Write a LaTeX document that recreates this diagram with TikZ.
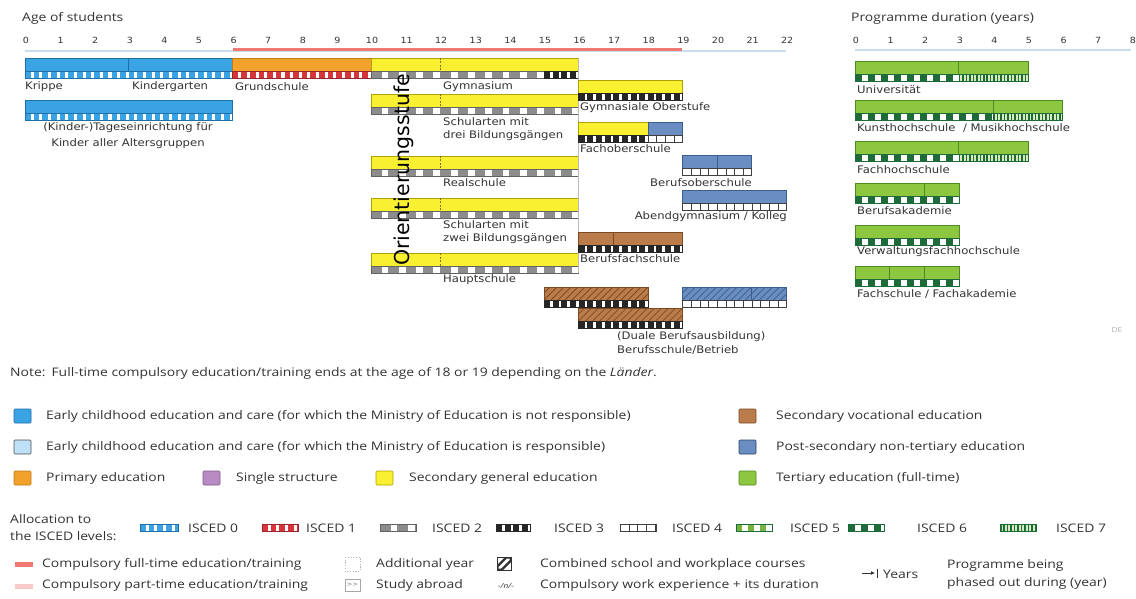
\documentclass[tikz,border=0pt]{standalone}
\usepackage{fontspec}
\setmainfont{Open Sans}[FakeStretch=1.18]
\newfontfamily\lab{DejaVu Sans}[FakeStretch=1.12]
\newfontfamily\labn{DejaVu Sans}
\usetikzlibrary{arrows.meta}

\definecolor{ecA}{HTML}{3AA3E3}
\definecolor{ecAd}{HTML}{1F6FA8}
\definecolor{ecB}{HTML}{BFE1F7}
\definecolor{prim}{HTML}{F2A22C}
\definecolor{primd}{HTML}{C07A10}
\definecolor{single}{HTML}{B88CC2}
\definecolor{singled}{HTML}{7E5A88}
\definecolor{secg}{HTML}{FAF032}
\definecolor{secgd}{HTML}{B0A000}
\definecolor{secv}{HTML}{BA7C4B}
\definecolor{secvd}{HTML}{7E4A22}
\definecolor{post}{HTML}{6B8EC2}
\definecolor{postd}{HTML}{3C5E8E}
\definecolor{tert}{HTML}{8DC63F}
\definecolor{tertd}{HTML}{4E8A22}
\definecolor{dgreen}{HTML}{1E6B3A}
\definecolor{iscred}{HTML}{D8353A}
\definecolor{iscgrey}{HTML}{8C8C8C}
\definecolor{comp}{HTML}{F07872}
\definecolor{comppart}{HTML}{F9C9C9}
\definecolor{axisblue}{HTML}{C9DDEE}
\definecolor{txt}{HTML}{333333}

% periodic band: x1, x2, y1, y2, background, mark colour, period, mark width
\newcommand\isband[8]{%
  \fill[#5] ({#1},{#3}) rectangle ({#2},{#4});
  \begin{scope}
    \clip ({#1},{#3}) rectangle ({#2},{#4});
    \pgfmathtruncatemacro\nmarks{(#2-#1)/#7}
    \foreach \k in {0,...,\nmarks}
      \fill[#6] ({#1+\k*#7},{#3}) rectangle ({#1+\k*#7+#8},{#4});
  \end{scope}}
% ISCED stripes: x1, x2, top of the stripe (height 7)
\newcommand\iZero[3]{\isband{#1}{#2}{#3}{#3+7}{white}{ecA}{8.65}{5.6}%
  \draw[ecAd,line width=.5] ({#1},{#3}) rectangle ({#2},{#3+7});}
\newcommand\iOne[3]{\isband{#1}{#2}{#3}{#3+7}{white}{iscred}{8.65}{5.6}%
  \draw[iscred!70!black,line width=.5] ({#1},{#3}) rectangle ({#2},{#3+7});}
\newcommand\iTwo[3]{\isband{#1}{#2}{#3}{#3+7}{white}{iscgrey}{17.3}{10.5}%
  \draw[iscgrey!70!black,line width=.5] ({#1},{#3}) rectangle ({#2},{#3+7});}
\newcommand\iThree[3]{\isband{#1}{#2}{#3}{#3+7}{white}{black!85}{8.65}{6}%
  \draw[black!85,line width=.5] ({#1},{#3}) rectangle ({#2},{#3+7});}
\newcommand\iFour[3]{\isband{#1}{#2}{#3}{#3+7}{white}{black!75}{8.65}{.8}%
  \draw[black!75,line width=.6] ({#1},{#3}) rectangle ({#2},{#3+7});}
\newcommand\iFive[3]{\isband{#1}{#2}{#3}{#3+7}{white}{tert!80!dgreen}{12}{6}%
  \draw[dgreen,line width=.5] ({#1},{#3}) rectangle ({#2},{#3+7});}
\newcommand\iSix[3]{\isband{#1}{#2}{#3}{#3+7}{white}{dgreen}{13}{6.5}%
  \draw[dgreen,line width=.5] ({#1},{#3}) rectangle ({#2},{#3+7});}
\newcommand\iSeven[3]{\isband{#1}{#2}{#3}{#3+7}{tert!35}{dgreen}{3.46}{1.5}%
  \draw[dgreen,line width=.5] ({#1},{#3}) rectangle ({#2},{#3+7});}
% coloured part of a bar: x1, x2, top, fill, edge
\newcommand\ebar[5]{\filldraw[fill=#4,draw=#5,line width=.5] ({#1},{#3}) rectangle ({#2},{#3+13});}
% year divider inside a bar: x, top, options
\newcommand\divline[3]{\draw[#3,line width=.7] ({#1},{#2}) -- ({#1},{#2+13});}
% diagonal hatching: x1, x2, y1, y2, colour
\newcommand\hatchbar[5]{%
  \begin{scope}
    \clip ({#1},{#3}) rectangle ({#2},{#4});
    \pgfmathtruncatemacro\nh{(#2-#1)/7+3}
    \foreach \k in {-3,...,\nh}
      \draw[#5,line width=.8] ({#1+\k*7},{#4}) -- ++(13,-13);
  \end{scope}}

\begin{document}
\begin{tikzpicture}[x=1pt,y=-1pt,
  every node/.style={inner sep=0pt,text=txt},
  lbl/.style={font=\lab\fontsize{10.4}{12}\selectfont,anchor=west},
  tick/.style={font=\lab\fontsize{8.5}{9}\selectfont},
  leg/.style={font=\fontsize{11.8}{13}\selectfont,anchor=west},
  sq/.style={line width=.6,rounded corners=1}]
\useasboundingbox (0,0) rectangle (1136,599);
\fill[white] (0,0) rectangle (1136,599);

% ---------- age axis ----------
\node[leg] (agehead) at (22,18) {Age of students};
\foreach \a in {0,...,22}
  \node[tick] (age\a) at ({25+34.6*\a+1},40) {\a};
\draw[axisblue,line width=1.5] (25,51) -- (786.2,51);
\draw[comp,line width=3] (232.6,50) -- (682.4,50);

% ---------- duration axis ----------
\node[leg] (durhead) at (851,18) {Programme duration (years)};
\foreach \d in {0,...,8}
  \node[tick] (dur\d) at ({855+34.6*\d+1},40) {\d};
\draw[axisblue,line width=1.5] (855,50) -- (1131,50);

% ---------- early childhood and primary ----------
\ebar{25}{232.6}{58}{ecA}{ecAd}
\divline{128.8}{58}{ecAd}
\iZero{25}{232.6}{71}
\ebar{232.6}{371}{58}{prim}{primd}
\iOne{232.6}{371}{71}
\ebar{25}{232.6}{100}{ecA}{ecAd}
\iZero{25}{232.6}{113}

% ---------- lower secondary ----------
\foreach \t in {58,94,156,198,253}{
  \ebar{371}{578.6}{\t}{secg}{secgd}
  \divline{440.2}{\t}{secgd!70!black,dash pattern=on 2pt off 1.5pt}
}
\iTwo{371}{544}{71}
\iThree{544}{578.6}{71}
\foreach \t in {94,156,198,253}{\iTwo{371}{578.6}{\t+13}}
\draw[gray!55,line width=.6] (578.6,58) -- (578.6,273);
\node[font=\labn\fontsize{20.5}{21}\selectfont,text=black,rotate=90] (orient) at (404,170) {Orientierungsstufe};

% ---------- upper secondary and beyond ----------
\ebar{578.6}{682.4}{80}{secg}{secgd}
\iThree{578.6}{682.4}{93}
\ebar{578.6}{647.8}{122}{secg}{secgd}
\ebar{647.8}{682.4}{122}{post}{postd}
\iThree{578.6}{647.8}{135}
\iFour{647.8}{682.4}{135}
\ebar{682.4}{751.6}{155}{post}{postd}
\divline{717}{155}{postd}
\iFour{682.4}{751.6}{168}
\ebar{682.4}{786.2}{190}{post}{postd}
\iFour{682.4}{786.2}{203}
\ebar{578.6}{682.4}{232}{secv}{secvd}
\divline{613.2}{232}{secvd}
\iThree{578.6}{682.4}{245}
% dual system (combined school and workplace)
\ebar{544}{647.8}{287}{secv}{secvd}
\hatchbar{544}{647.8}{287}{300}{secvd}
\draw[secvd,line width=.5] (544,287) rectangle (647.8,300);
\iThree{544}{647.8}{300}
\ebar{578.6}{682.4}{308}{secv}{secvd}
\hatchbar{578.6}{682.4}{308}{321}{secvd}
\draw[secvd,line width=.5] (578.6,308) rectangle (682.4,321);
\iThree{578.6}{682.4}{321}
\ebar{682.4}{786.2}{287}{post}{postd}
\hatchbar{682.4}{786.2}{287}{300}{postd}
\draw[postd,line width=.5] (682.4,287) rectangle (786.2,300);
\divline{751.6}{287}{postd}
\iFour{682.4}{786.2}{300}

% ---------- tertiary ----------
\ebar{855}{1028}{61}{tert}{tertd}
\divline{958.8}{61}{tertd}
\iSix{855}{958.8}{74}\iSeven{958.8}{1028}{74}
\ebar{855}{1062.6}{100}{tert}{tertd}
\divline{993.4}{100}{tertd}
\iSix{855}{993.4}{113}\iSeven{993.4}{1062.6}{113}
\ebar{855}{1028}{141}{tert}{tertd}
\divline{958.8}{141}{tertd}
\iSix{855}{958.8}{154}\iSeven{958.8}{1028}{154}
\ebar{855}{958.8}{183}{tert}{tertd}
\divline{924.2}{183}{tertd}
\iSix{855}{958.8}{196}
\ebar{855}{958.8}{225}{tert}{tertd}
\iSix{855}{958.8}{238}
\ebar{855}{958.8}{266}{tert}{tertd}
\divline{889.6}{266}{tertd}\divline{924.2}{266}{tertd}
\iSix{855}{958.8}{279}

% ---------- programme labels ----------
\node[lbl] (krippe) at (25,87) {Krippe};
\node[lbl] (kiga) at (132,87) {Kindergarten};
\node[lbl] (gs) at (235,87) {Grundschule};
\node[lbl] (gym) at (443,87) {Gymnasium};
\node[lbl,anchor=center] (tage1) at (128,128) {(Kinder-)Tageseinrichtung für};
\node[lbl,anchor=center] (tage2) at (128,144) {Kinder aller Altersgruppen};
\node[lbl] (sdrei1) at (443,122) {Schularten mit};
\node[lbl] (sdrei2) at (443,136) {drei Bildungsgängen};
\node[lbl] (real) at (443,183) {Realschule};
\node[lbl] (szwei1) at (443,225) {Schularten mit};
\node[lbl] (szwei2) at (443,239) {zwei Bildungsgängen};
\node[lbl] (haupt) at (443,280) {Hauptschule};
\node[lbl] (gymo) at (580,108) {Gymnasiale Oberstufe};
\node[lbl] (fos) at (580,149) {Fachoberschule};
\node[lbl,anchor=east] (bos) at (752,183) {Berufsoberschule};
\node[lbl,anchor=east] (abend) at (787,217) {Abendgymnasium / Kolleg};
\node[lbl] (bfs) at (580,259) {Berufsfachschule};
\node[lbl] (dual1) at (617,337) {(Duale Berufsausbildung)};
\node[lbl] (dual2) at (617,350) {Berufsschule/Betrieb};
\node[lbl] (uni) at (857,90) {Universität};
\node[lbl] (kunst) at (857,128) {Kunsthochschule~ / Musikhochschule};
\node[lbl] (fh) at (857,170) {Fachhochschule};
\node[lbl] (ba) at (857,211) {Berufsakademie};
\node[lbl] (vfh) at (857,252) {Verwaltungsfachhochschule};
\node[lbl] (fsak) at (857,294) {Fachschule / Fachakademie};
\node[font=\fontsize{7}{7}\selectfont,text=gray!60] (de) at (1117,330) {DE};

% ---------- note and legend ----------
\node[leg] (note) at (10,373) {Note:\hspace{6pt}Full-time compulsory education/training ends at the age of 18 or 19 depending on the \textit{Länder}.};

\filldraw[sq,fill=ecA,draw=ecAd] (14,409) rectangle (31,423);
\node[leg] (lecA) at (46,416) {Early childhood education and care (for which the Ministry of Education is not responsible)};
\filldraw[sq,fill=ecB,draw=black!70] (14,440) rectangle (31,454);
\node[leg] (lecB) at (46,447) {Early childhood education and care (for which the Ministry of Education is responsible)};
\filldraw[sq,fill=prim,draw=primd] (14,471) rectangle (31,485);
\node[leg] (lprim) at (46,478) {Primary education};
\filldraw[sq,fill=single,draw=singled] (203,471) rectangle (220,485);
\node[leg] (lsingle) at (236,478) {Single structure};
\filldraw[sq,fill=secg,draw=secgd] (376,471) rectangle (393,485);
\node[leg] (lsecg) at (409,478) {Secondary general education};
\filldraw[sq,fill=secv,draw=secvd] (739,409) rectangle (756,423);
\node[leg] (lsecv) at (776,416) {Secondary vocational education};
\filldraw[sq,fill=post,draw=postd!70!black] (739,440) rectangle (756,454);
\node[leg] (lpost) at (776,447) {Post-secondary non-tertiary education};
\filldraw[sq,fill=tert,draw=tertd] (739,471) rectangle (756,485);
\node[leg] (ltert) at (776,478) {Tertiary education (full-time)};

\node[leg] (alloc1) at (10,519) {Allocation to};
\node[leg] (alloc2) at (10,536) {the ISCED levels:};
\iZero{140}{178}{524}   \node[leg] (lz) at (188,528) {ISCED 0};
\iOne{262}{298}{524}    \node[leg] (lo) at (306,528) {ISCED 1};
\iTwo{380}{416}{524}    \node[leg] (ltw) at (432,528) {ISCED 2};
\iThree{496}{530}{524}  \node[leg] (lth) at (554,528) {ISCED 3};
\iFour{620}{656}{524}   \node[leg] (lfo) at (672,528) {ISCED 4};
\iFive{736}{772}{524}   \node[leg] (lfi) at (790,528) {ISCED 5};
\iSix{848}{884}{524}    \node[leg] (lsi) at (917,528) {ISCED 6};
\iSeven{1000}{1036}{524}\node[leg] (lse) at (1056,528) {ISCED 7};

\fill[comp] (15,562) rectangle (33,567);
\node[leg] (lcomp) at (42,564) {Compulsory full-time education/training};
\fill[comppart] (15,584) rectangle (33,589);
\node[leg] (lpart) at (42,585) {Compulsory part-time education/training};
\draw[gray!55,line width=.6,dash pattern=on 1.2pt off 1.5pt] (345,557) rectangle (360,571);
\node[leg] (ladd) at (376,564) {Additional year};
\draw[gray!70,line width=.5] (345,579) rectangle (360,591);
\node[font=\lab\fontsize{6}{6}\selectfont,text=gray] (abroadmark) at (352.5,585) {>>};
\node[leg] (labroad) at (376,585) {Study abroad};
\draw[black!80,line width=1] (497,557) rectangle (511,570);
\begin{scope}
  \clip (497,557) rectangle (511,570);
  \fill[black!80] (497,570) -- (503,570) -- (511,562) -- (511,557) -- (505,557) -- (497,565) -- cycle;
  \fill[white] (498.5,568.5) -- (501,568.5) -- (509.5,560) -- (509.5,558.5) -- (507,558.5) -- (498.5,567) -- cycle;
\end{scope}
\node[leg] (lcomb) at (540,564) {Combined school and workplace courses};
\node[font=\fontsize{7}{7}\itshape] (workmark) at (506,586) {-/n/-};
\node[leg] (lwork) at (540,585) {Compulsory work experience + its duration};
\coordinate (arA) at (862,573);
\coordinate (arB) at (875,573);
\draw[black!80,line width=.9,-{Latex[length=4pt,width=4pt]}] (arA) -- (arB);
\draw[black!80,line width=.9] (877,568.5) -- (877,577.5);
\node[leg] (lyears) at (883,574) {Years};
\node[leg] (lphase1) at (947,565) {Programme being};
\node[leg] (lphase2) at (947,583) {phased out during (year)};
\end{tikzpicture}
\end{document}
